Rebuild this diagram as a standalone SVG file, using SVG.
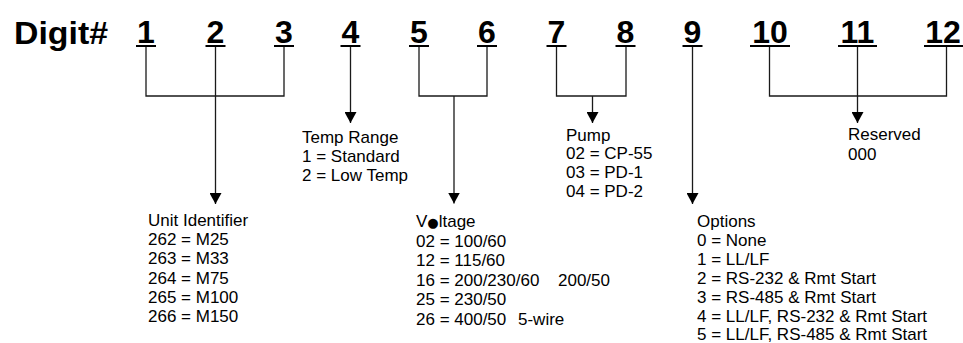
<svg xmlns="http://www.w3.org/2000/svg" width="963" height="343" viewBox="0 0 963 343">
<defs>
<style>
.dg{font-family:"Liberation Sans",Arial,sans-serif;font-weight:bold;font-size:32px;fill:#000;text-anchor:middle}
.ul{fill:#000}
.t{font-family:"Liberation Sans",Arial,sans-serif;font-size:17px;fill:#000}
.c{fill:none;stroke:#1a1a1a;stroke-width:1.3}
</style>
<marker id="ah" markerUnits="userSpaceOnUse" markerWidth="12" markerHeight="12" refX="11" refY="6" orient="auto">
<path d="M0,0 L11,6 L0,12 Z" fill="#000"/>
</marker>
</defs>
<rect width="963" height="343" fill="#fff"/>
<g id="header">
<text x="14" y="44" class="dg" style="text-anchor:start" textLength="94" lengthAdjust="spacingAndGlyphs">Digit#</text>
<text x="146" y="43" class="dg">1</text><rect class="ul" x="136" y="45" width="20" height="2"/>
<text x="215.5" y="43" class="dg">2</text><rect class="ul" x="205.5" y="45" width="20" height="2"/>
<text x="284" y="43" class="dg">3</text><rect class="ul" x="274" y="45" width="20" height="2"/>
<text x="350.5" y="43" class="dg">4</text><rect class="ul" x="340.5" y="45" width="20" height="2"/>
<text x="419" y="43" class="dg">5</text><rect class="ul" x="409" y="45" width="20" height="2"/>
<text x="487" y="43" class="dg">6</text><rect class="ul" x="477" y="45" width="20" height="2"/>
<text x="556.5" y="43" class="dg">7</text><rect class="ul" x="546.5" y="45" width="20" height="2"/>
<text x="625.5" y="43" class="dg">8</text><rect class="ul" x="615.5" y="45" width="20" height="2"/>
<text x="692.5" y="43" class="dg">9</text><rect class="ul" x="682.5" y="45" width="20" height="2"/>
<text x="770" y="43" class="dg">10</text><rect class="ul" x="750" y="45" width="40" height="2"/>
<text x="857.5" y="43" class="dg">11</text><rect class="ul" x="838" y="45" width="39" height="2"/>
<text x="943" y="43" class="dg">12</text><rect class="ul" x="924" y="45" width="39" height="2"/>
</g>
<g id="connectors">
<path class="c" d="M146,47 V96 H284 V47"/>
<path class="c" d="M215.5,47 V204" marker-end="url(#ah)"/>
<path class="c" d="M350.5,47 V123" marker-end="url(#ah)"/>
<path class="c" d="M419,47 V96 H487 V47"/>
<path class="c" d="M454,96 V203.5" marker-end="url(#ah)"/>
<path class="c" d="M556.5,47 V96 H626 V47"/>
<path class="c" d="M592.5,96 V123" marker-end="url(#ah)"/>
<path class="c" d="M692.5,47 V204" marker-end="url(#ah)"/>
<path class="c" d="M769.5,47 V96 H946.5 V47"/>
<path class="c" d="M857.5,47 V123" marker-end="url(#ah)"/>
</g>
<g id="unit-identifier">
<text class="t" x="148" y="226">Unit Identifier</text>
<text class="t" x="148" y="245.2">262 = M25</text>
<text class="t" x="148" y="264.4">263 = M33</text>
<text class="t" x="148" y="283.6">264 = M75</text>
<text class="t" x="148" y="302.8">265 = M100</text>
<text class="t" x="148" y="322">266 = M150</text>
</g>
<g id="temp-range">
<text class="t" x="302" y="143">Temp Range</text>
<text class="t" x="302" y="162.2">1 = Standard</text>
<text class="t" x="302" y="181.4">2 = Low Temp</text>
</g>
<g id="voltage">
<text class="t" x="416" y="227.3">V<tspan font-family="DejaVu Sans" font-size="13">●</tspan>ltage</text>
<text class="t" x="416" y="246.8">02 = 100/60</text>
<text class="t" x="416" y="266.3">12 = 115/60</text>
<text class="t" x="416" y="285.8">16 = 200/230/60<tspan x="558">200/50</tspan></text>
<text class="t" x="416" y="305.3">25 = 230/50</text>
<text class="t" x="416" y="324.8">26 = 400/50<tspan x="518">5-wire</tspan></text>
</g>
<g id="pump">
<text class="t" x="566" y="140.5">Pump</text>
<text class="t" x="566" y="159.2">02 = CP-55</text>
<text class="t" x="566" y="177.9">03 = PD-1</text>
<text class="t" x="566" y="196.6">04 = PD-2</text>
</g>
<g id="options">
<text class="t" x="697" y="227.3">Options</text>
<text class="t" x="697" y="246.3">0 = None</text>
<text class="t" x="697" y="265.3">1 = LL/LF</text>
<text class="t" x="697" y="284.3">2 = RS-232 &amp; Rmt Start</text>
<text class="t" x="697" y="303.3">3 = RS-485 &amp; Rmt Start</text>
<text class="t" x="697" y="322.3">4 = LL/LF, RS-232 &amp; Rmt Start</text>
<text class="t" x="697" y="339.5">5 = LL/LF, RS-485 &amp; Rmt Start</text>
</g>
<g id="reserved">
<text class="t" x="848" y="140">Reserved</text>
<text class="t" x="848" y="159.5">000</text>
</g>
</svg>
